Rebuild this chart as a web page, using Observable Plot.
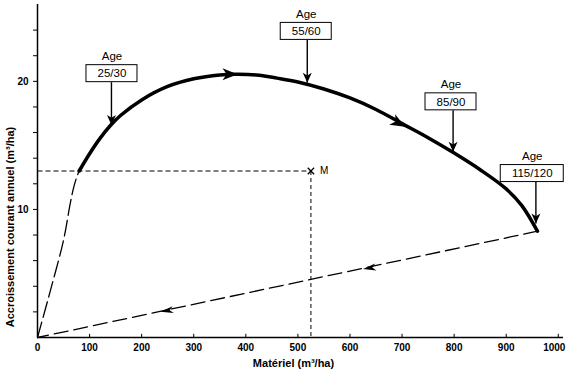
<!DOCTYPE html>
<html><head><meta charset="utf-8">
<script src="https://cdn.jsdelivr.net/npm/d3@7"></script>
<script src="https://cdn.jsdelivr.net/npm/@observablehq/plot@0.6"></script>
<style>body{margin:0;background:#fff} svg{display:block}</style>
</head><body><div id="chart"></div>
<script>
// ---- data ----
const curveX = [80,100,120,140,160,200,250,300,350,380,420,460,500,550,600,650,700,750,800,850,900,930,960];
const curveY = [13.0,14.35,15.55,16.55,17.35,18.55,19.6,20.2,20.5,20.55,20.5,20.25,19.95,19.4,18.7,17.8,16.7,15.6,14.4,13.1,11.6,10.3,8.3];
const riseX = [0,25,50,63,70,76,80];
const riseY = [0,3.7,7.6,10.5,11.8,12.6,13.0];
const returnX = [960,0];
const returnY = [8.3,0];
const mPoint = {x: 525, y: 13, label: "M"};
const ageLabels = ["25/30","55/60","85/90","115/120"];
const ageBoxX = [143,516,794,950];
const ageBoxY = [20.6,23.9,18.4,12.8];
const ageTipX = [142,518,798,957];
const ageTipY = [16.6,19.9,14.5,8.9];
const flowTipX = [384,706,625,236];
const flowTipY = [20.55,16.45,5.34,2.01];
const flowFromX = [360,680,660,270];
const flowFromY = [20.55,17.05,5.57,2.24];
const flowKind = ["curve","curve","return","return"];
const xTicks = [0,100,200,300,400,500,600,700,800,900,1000];
const yTicks = [2,4,6,8,10,12,14,16,18,20,22,24];
const yTickLabels = [10,20];
const xLabel = "Matériel (m³/ha)";
const yLabel = "Accroissement courant annuel (m³/ha)";

// ---- layout ----
const W = 567, H = 372, ML = 37, MR = 4, MT = 4, MB = 35;
const xDomain = [0,1010], yDomain = [0,26];
const px = d3.scaleLinear(xDomain, [ML, W - MR]);
const py = d3.scaleLinear(yDomain, [H - MB, MT]);
const angle = (x1,y1,x2,y2) => {
  const dx = px(x2) - px(x1), dy = py(y2) - py(y1);
  return Math.atan2(dx, -dy) * 180 / Math.PI;
};
const dart = (L, w) => ({draw(ctx){ ctx.moveTo(0,0); ctx.lineTo(w,L); ctx.lineTo(0,L*0.72); ctx.lineTo(-w,L); ctx.closePath(); }});

const curve = curveX.map((x,i) => ({x, y: curveY[i]}));
const rise = riseX.map((x,i) => ({x, y: riseY[i]}));
const ret = returnX.map((x,i) => ({x, y: returnY[i]}));
const pxPerX = (W - MR - ML) / (xDomain[1] - xDomain[0]);
const halfH = 8.5 / ((H - MB - MT) / (yDomain[1] - yDomain[0]));
const ages = ageLabels.map((t,i) => ({
  t, x: ageBoxX[i], y: ageBoxY[i], tx: ageTipX[i], ty: ageTipY[i],
  hw: (t.length * 6 + 21) / 2 / pxPerX
}));
const flows = flowTipX.map((x,i) => ({x, y: flowTipY[i], kind: flowKind[i],
  rot: angle(flowFromX[i], flowFromY[i], x, flowTipY[i])}));

const font = "Liberation Sans, Arial, Helvetica, sans-serif";
const lastTick = xTicks[xTicks.length - 1];

const chart = Plot.plot({
  width: W, height: H,
  marginLeft: ML, marginRight: MR, marginTop: MT, marginBottom: MB,
  style: {fontFamily: font, background: "#fff", color: "#000"},
  x: {domain: xDomain},
  y: {domain: yDomain},
  marks: [
    // axes
    Plot.axisX({ticks: xTicks.filter(t => t !== lastTick), tickFormat: d => String(d), tickSize: 0, tickPadding: 6, fontSize: 10, fontWeight: "bold", label: null}),
    Plot.axisX({ticks: [lastTick], tickFormat: d => String(d), tickSize: 0, tickPadding: 6, dx: -4, fontSize: 10, fontWeight: "bold", label: null}),
    Plot.ruleX(xTicks, {x: d => d, y1: 0, y2: 0.25, strokeWidth: 1}),
    Plot.axisY({ticks: yTicks, tickSize: 4, tickPadding: 5, fontSize: 10, fontWeight: "bold",
      tickFormat: d => yTickLabels.includes(d) ? String(d) : "", label: null}),
    Plot.ruleY([0], {strokeWidth: 1.5}),
    Plot.ruleX([0], {strokeWidth: 1.5}),
    Plot.text([xLabel], {frameAnchor: "bottom", textAnchor: "middle", dy: 29, dx: -7, text: d => d, fontSize: 11, fontWeight: "bold"}),
    Plot.text([yLabel], {frameAnchor: "left", textAnchor: "middle", dx: -27, dy: 56, rotate: -90, text: d => d, fontSize: 11, fontWeight: "bold"}),
    // M guide lines
    Plot.link([mPoint], {x1: 0, y1: d => d.y, x2: d => d.x, y2: d => d.y, strokeDasharray: "5,3", strokeWidth: 1}),
    Plot.link([mPoint], {x1: d => d.x, y1: d => d.y, x2: d => d.x, y2: 0, strokeDasharray: "4,3", strokeWidth: 1}),
    Plot.dot([mPoint], {x: "x", y: "y", symbol: "times", r: 3, stroke: "#000", strokeWidth: 1.3}),
    Plot.text([mPoint], {x: "x", y: "y", text: "label", dx: 9, textAnchor: "start", fontSize: 10}),
    // dashed rise and return
    Plot.line(rise, {x: "x", y: "y", curve: "catmull-rom", strokeWidth: 1.3, strokeDasharray: "16,5"}),
    Plot.line(ret, {x: "x", y: "y", strokeWidth: 1.3, strokeDasharray: "14,6"}),
    // main curve
    Plot.line(curve, {x: "x", y: "y", curve: "catmull-rom", strokeWidth: 3.5, strokeLinecap: "round"}),
    // flow arrowheads
    Plot.dot(flows.filter(d => d.kind === "curve"), {x: "x", y: "y", rotate: "rot", symbol: dart(15, 6), fill: "#000", stroke: "none"}),
    Plot.dot(flows.filter(d => d.kind === "return"), {x: "x", y: "y", rotate: "rot", symbol: dart(13, 3.5), fill: "#000", stroke: "none"}),
    // age annotations
    Plot.link(ages, {x1: "tx", y1: d => d.y - halfH, x2: "tx", y2: "ty", strokeWidth: 1.4}),
    Plot.dot(ages, {x: "tx", y: "ty", rotate: 180, symbol: dart(10, 4.5), fill: "#000", stroke: "none"}),
    Plot.rect(ages, {x1: d => d.x - d.hw, x2: d => d.x + d.hw, y1: d => d.y - halfH, y2: d => d.y + halfH, fill: "#fff", stroke: "#000", strokeWidth: 1}),
    Plot.text(ages, {x: "x", y: "y", text: "t", fontSize: 11.5}),
    Plot.text(ages, {x: "x", y: d => d.y + halfH, dy: -9, text: () => "Age", fontSize: 11.5})
  ]
});
document.getElementById("chart").appendChild(chart);
</script>
</body></html>
